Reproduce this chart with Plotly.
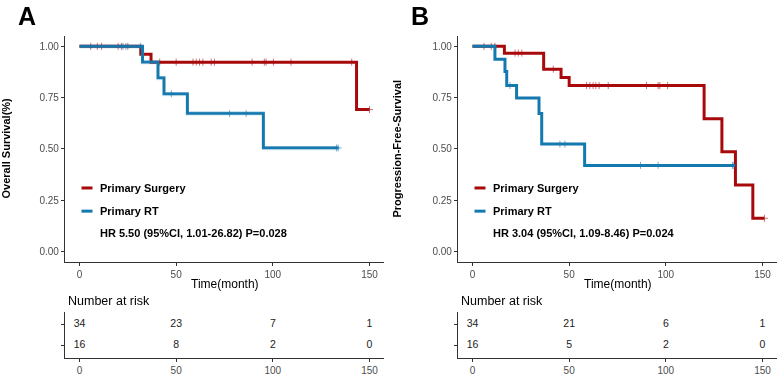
import numpy as np
import plotly.graph_objects as go

# ---------------- data ----------------
group_names = ["Primary Surgery", "Primary RT"]
colors = ["#A80A0C", "#1479AF"]

# Panel A : overall survival
A_surg_time = [0, 31.7, 37.0, 143.3, 150.0]
A_surg_surv = [1.0, 0.962, 0.923, 0.692, 0.692]
A_surg_cens = [5.8, 9.2, 11.4, 20.0, 21.7, 25.0, 41.5, 50.0, 58.7, 60.4, 62.1, 63.8,
               68.1, 69.8, 89.3, 95.6, 96.5, 100.3, 109.4, 140.8, 150.0]
A_rt_time = [0, 32.6, 40.6, 43.7, 55.8, 95.1, 134.0]
A_rt_surv = [1.0, 0.923, 0.846, 0.769, 0.673, 0.505, 0.505]
A_rt_cens = [22.5, 24.0, 31.5, 47.5, 77.6, 86.2, 132.9, 133.8]

# Panel B : progression-free survival
B_surg_time = [0, 16.5, 36.8, 45.8, 50.0, 119.8, 129.0, 136.0, 145.0, 151.0]
B_surg_surv = [1.0, 0.967, 0.889, 0.848, 0.809, 0.647, 0.486, 0.324, 0.162, 0.162]
B_surg_cens = [5.9, 9.7, 11.6, 22.0, 23.7, 25.5, 41.8, 59.0, 60.7, 62.4, 63.8,
               65.5, 70.2, 90.0, 96.0, 96.9, 100.9, 151.0]
B_rt_time = [0, 11.6, 16.8, 17.7, 22.8, 34.4, 35.8, 58.0, 135.7]
B_rt_surv = [1.0, 0.9375, 0.877, 0.809, 0.748, 0.673, 0.524, 0.42, 0.42]
B_rt_cens = [19.4, 45.2, 47.8, 86.9, 96.0, 134.5, 135.2]

# number at risk
risk_times = [0, 50, 100, 150]
A_risk_surg = [34, 23, 7, 1]
A_risk_rt = [16, 8, 2, 0]
B_risk_surg = [34, 21, 6, 1]
B_risk_rt = [16, 5, 2, 0]

x_ticks = [0, 50, 100, 150]
y_ticks = [0, 0.25, 0.5, 0.75, 1.0]
y_ticktext = ["0.00", "0.25", "0.50", "0.75", "1.00"]

A_ylabel = "Overall Survival(%)"
B_ylabel = "Progression-Free-Survival"
A_hr = "HR 5.50 (95%CI, 1.01-26.82) P=0.028"
B_hr = "HR 3.04 (95%CI, 1.09-8.46) P=0.024"
x_title = "Time(month)"

# ---------------- figure ----------------
W, H = 778, 376
FONT = "Liberation Sans, Arial, Helvetica, sans-serif"


def px(x):
    return x / W


def py(y):
    return 1 - y / H


def step_at(times, surv, t):
    idx = np.searchsorted(np.asarray(times), t, side="right") - 1
    return np.asarray(surv)[np.clip(idx, 0, len(surv) - 1)]


fig = go.Figure()

panels = [
    dict(x="x", y="y", rx="x3", ry="y3",
         curves=[(A_surg_time, A_surg_surv, A_surg_cens), (A_rt_time, A_rt_surv, A_rt_cens)],
         risk=[A_risk_surg, A_risk_rt]),
    dict(x="x2", y="y2", rx="x4", ry="y4",
         curves=[(B_surg_time, B_surg_surv, B_surg_cens), (B_rt_time, B_rt_surv, B_rt_cens)],
         risk=[B_risk_surg, B_risk_rt]),
]

for p in panels:
    for gi, (t, s, c) in enumerate(p["curves"]):
        fig.add_trace(go.Scatter(x=t, y=s, mode="lines", line=dict(color=colors[gi], width=3, shape="hv"),
                                 xaxis=p["x"], yaxis=p["y"], showlegend=False, hoverinfo="skip"))
        fig.add_trace(go.Scatter(x=c, y=step_at(t, s, c), mode="markers",
                                 marker=dict(symbol="cross-thin", size=5,
                                             line=dict(color=colors[gi], width=1)),
                                 opacity=0.6,
                                 xaxis=p["x"], yaxis=p["y"], showlegend=False, hoverinfo="skip"))
    # risk table: surgery row = 2 (top), RT row = 1 (bottom)
    for gi, vals in enumerate(p["risk"]):
        fig.add_trace(go.Scatter(x=risk_times, y=[2 - gi] * len(vals), mode="text",
                                 text=[str(v) for v in vals],
                                 textfont=dict(family=FONT, size=10.5, color="#222222"),
                                 xaxis=p["rx"], yaxis=p["ry"], showlegend=False, hoverinfo="skip"))

AXC = "#333333"
TICKF = dict(family=FONT, size=10, color="#4D4D4D")

xA = [px(65), px(384)]
xB = [px(458), px(777)]
y_main = [py(265.4), py(36.6)]
y_risk = [py(363), py(316)]


def xaxis(dom, anchor):
    return dict(domain=dom, anchor=anchor, range=[-7.5, 157.5], tickvals=x_ticks,
                showline=True, linecolor=AXC, linewidth=1.1, ticks="outside", ticklen=3,
                tickcolor=AXC, tickwidth=1, tickfont=TICKF, showgrid=False, zeroline=False)


def yaxis_main(anchor):
    return dict(domain=y_main, anchor=anchor, range=[-0.05, 1.05], tickvals=y_ticks,
                ticktext=y_ticktext, showline=True, linecolor=AXC, linewidth=1.1,
                ticks="outside", ticklen=3, tickcolor=AXC, tickwidth=1, tickfont=TICKF,
                showgrid=False, zeroline=False)


def yaxis_risk(anchor):
    return dict(domain=y_risk, anchor=anchor, range=[0.43, 2.57], tickvals=[1, 2],
                showticklabels=False, showline=True, linecolor=AXC, linewidth=1.1,
                ticks="outside", ticklen=3, tickcolor=AXC, tickwidth=1,
                showgrid=False, zeroline=False)


annotations = []
shapes = []

panel_px = [
    dict(left=65, zero=79.5, label="A", ylabel=A_ylabel, hr=A_hr, ytitle_x=6, center=224.5),
    dict(left=458, zero=472.5, label="B", ylabel=B_ylabel, hr=B_hr, ytitle_x=397, center=617.5),
]

for pp in panel_px:
    # panel letter
    annotations.append(dict(x=px(pp["left"] - 49), y=py(16.5), xref="paper", yref="paper",
                            text="<b>%s</b>" % pp["label"], showarrow=False, xanchor="left",
                            yanchor="middle", font=dict(family=FONT, size=25, color="black")))
    # y-axis title
    annotations.append(dict(x=px(pp["ytitle_x"]), y=py(150.5), xref="paper", yref="paper",
                            text="<b>%s</b>" % pp["ylabel"], showarrow=False, textangle=-90,
                            xanchor="center", yanchor="middle",
                            font=dict(family=FONT, size=11, color="black")))
    # x-axis title
    annotations.append(dict(x=px(pp["center"]), y=py(288), xref="paper", yref="paper",
                            text=x_title, showarrow=False, xanchor="center", yanchor="middle",
                            font=dict(family=FONT, size=12, color="black")))
    # legend
    for gi, (name, yy) in enumerate(zip(group_names, [190.5, 214])):
        shapes.append(dict(type="line", xref="paper", yref="paper",
                           x0=px(pp["zero"] + 2), x1=px(pp["zero"] + 13), y0=py(yy), y1=py(yy),
                           line=dict(color=colors[gi], width=3)))
        annotations.append(dict(x=px(pp["zero"] + 18.5), y=py(yy), xref="paper", yref="paper",
                                text="<b>%s</b>" % name, showarrow=False, xanchor="left",
                                yanchor="middle", font=dict(family=FONT, size=11, color="black")))
    annotations.append(dict(x=px(pp["zero"] + 18.5), y=py(236.5), xref="paper", yref="paper",
                            text="<b>%s</b>" % pp["hr"], showarrow=False, xanchor="left",
                            yanchor="middle", font=dict(family=FONT, size=11, color="black")))
    # number at risk title
    annotations.append(dict(x=px(pp["left"] + 1), y=py(305.5), xref="paper", yref="paper",
                            text="Number at risk", showarrow=False, xanchor="left",
                            yanchor="middle", font=dict(family=FONT, size=12.5, color="black")))

fig.update_layout(
    width=W, height=H, margin=dict(l=0, r=0, t=0, b=0),
    paper_bgcolor="white", plot_bgcolor="white", showlegend=False,
    xaxis=xaxis(xA, "y"), yaxis=yaxis_main("x"),
    xaxis2=xaxis(xB, "y2"), yaxis2=yaxis_main("x2"),
    xaxis3=xaxis(xA, "y3"), yaxis3=yaxis_risk("x3"),
    xaxis4=xaxis(xB, "y4"), yaxis4=yaxis_risk("x4"),
    annotations=annotations, shapes=shapes,
    font=dict(family=FONT),
)

fig.write_html("out.html", config={"displayModeBar": False},
               post_script="document.body.style.margin='0';document.body.style.overflow='hidden';")
